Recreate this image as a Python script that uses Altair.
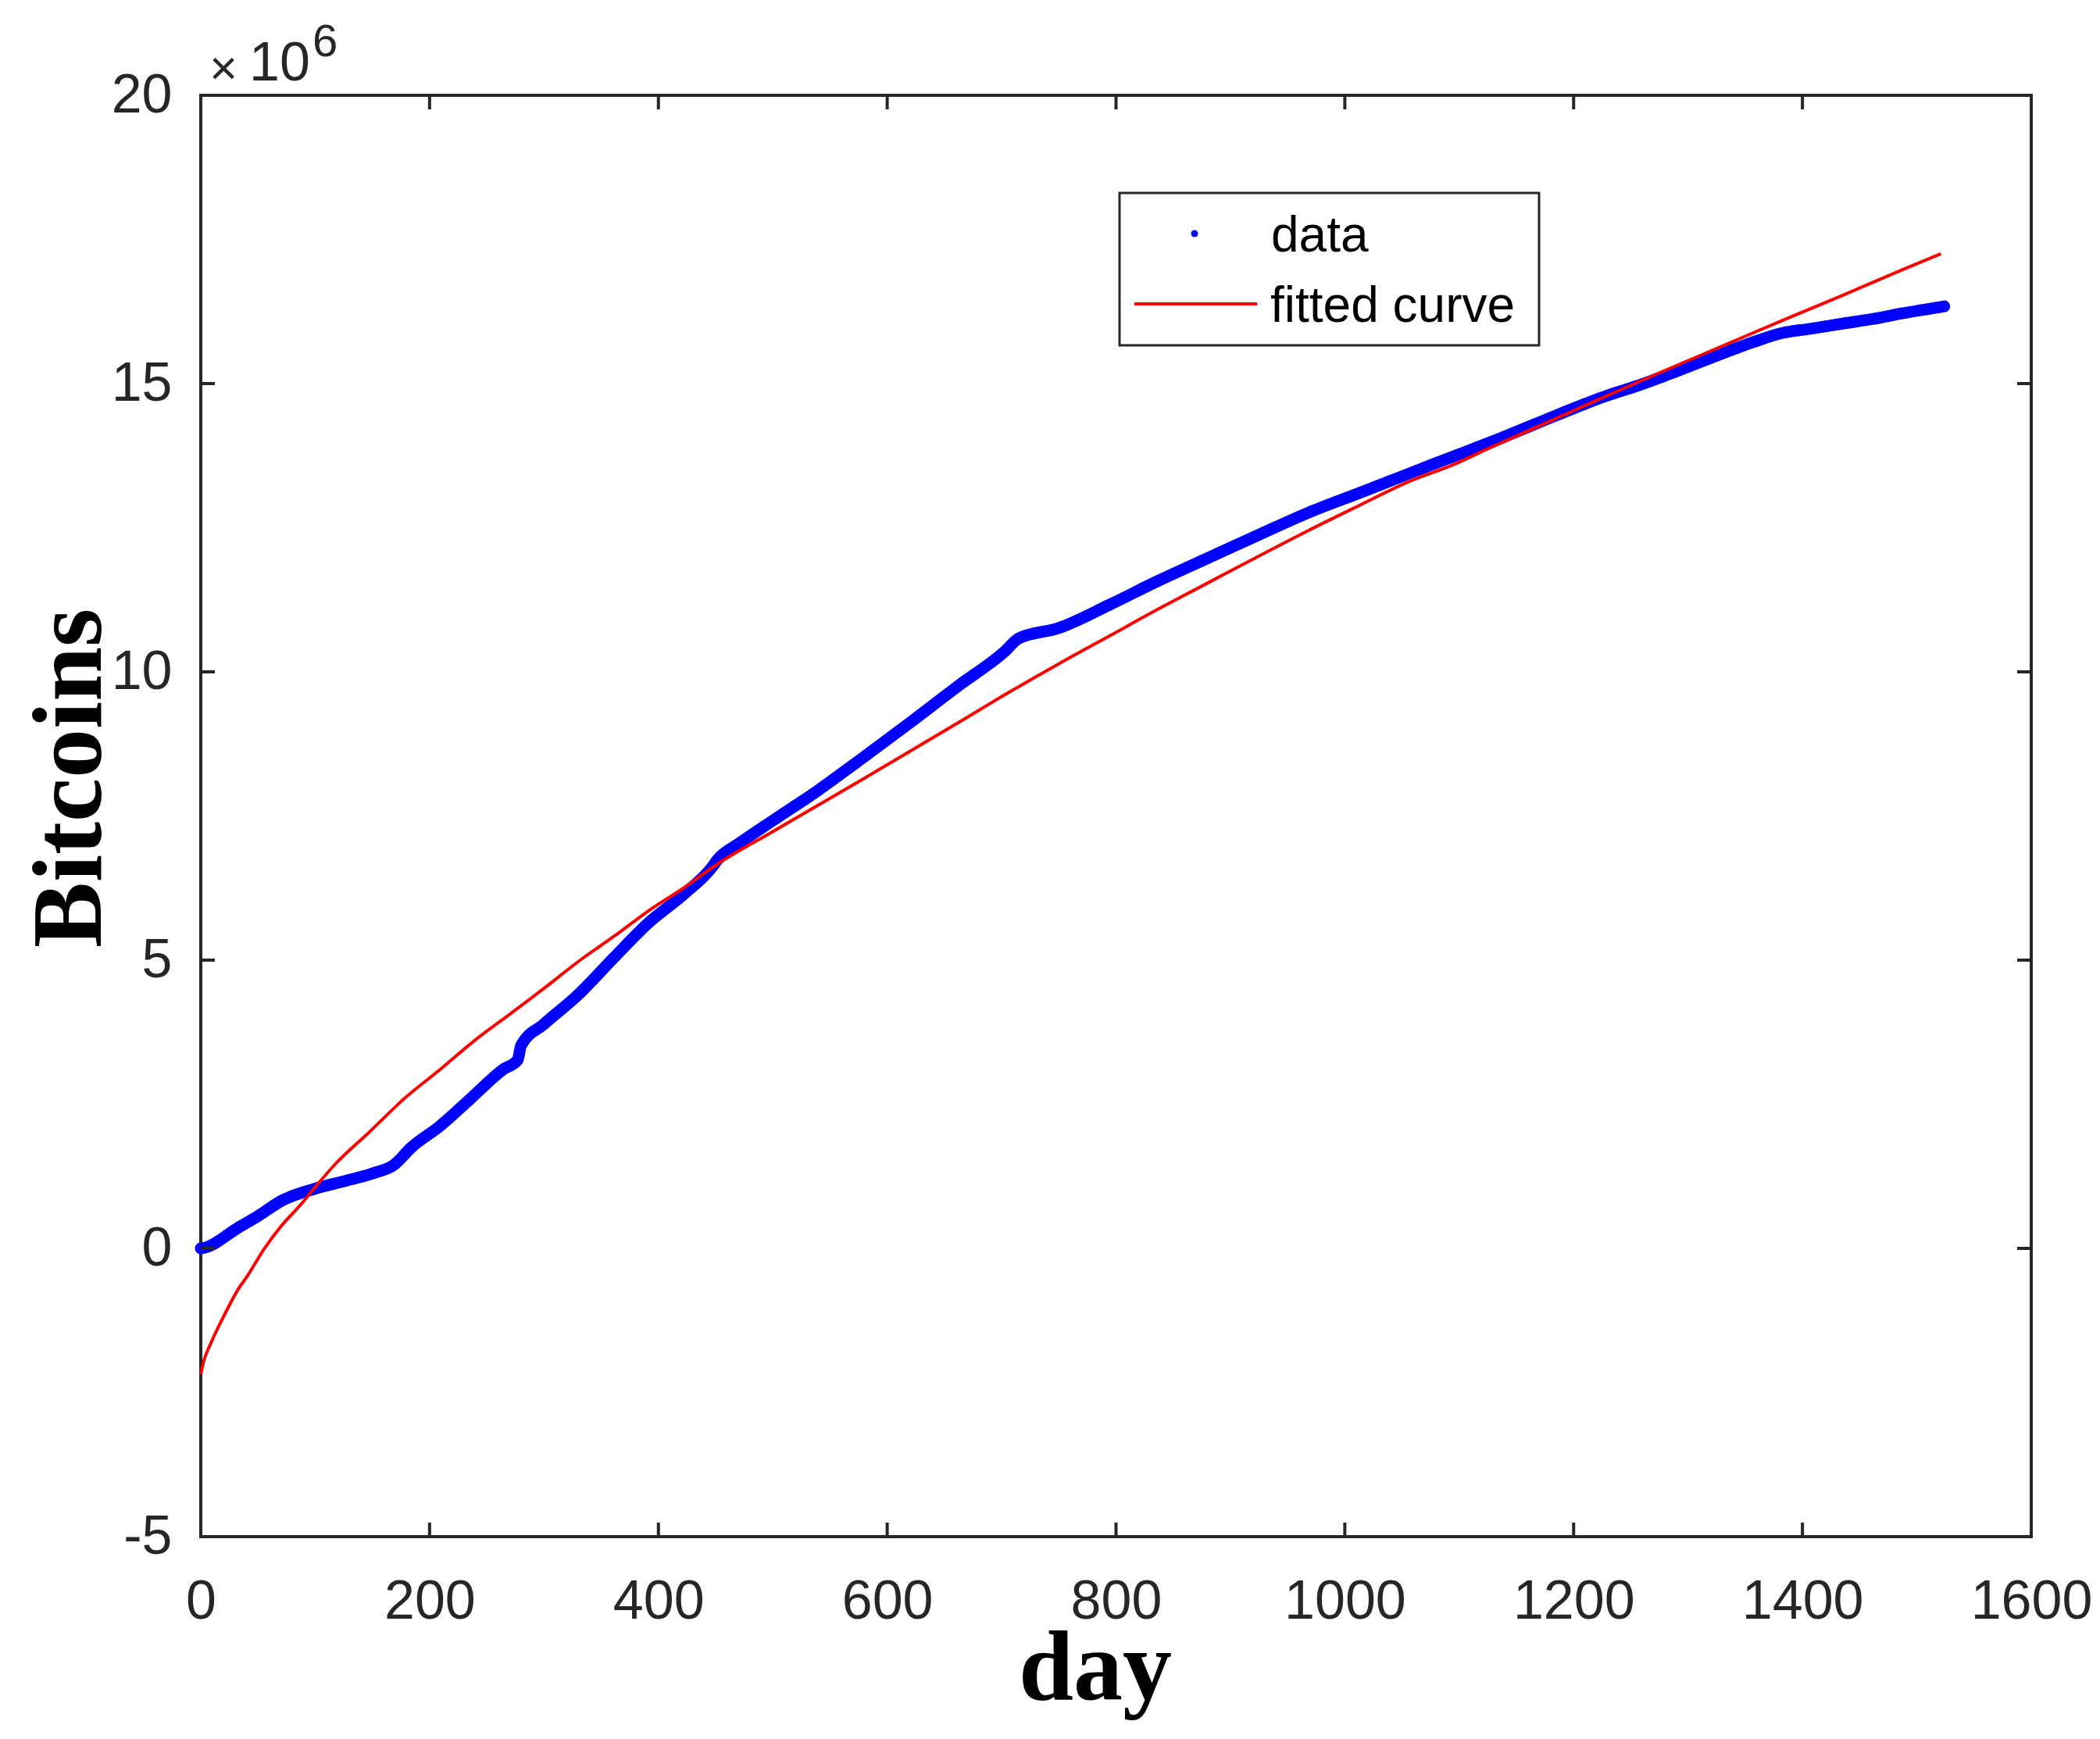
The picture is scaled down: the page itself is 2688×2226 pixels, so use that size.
import altair as alt
import pandas as pd

# ---- data ----
data_days = [0, 3, 32, 50, 71, 99, 126, 150, 169, 184, 209, 236, 264, 277, 280, 300,
             331, 361, 391, 422, 446, 452, 471, 500, 540, 578, 620, 663, 702, 715, 750,
             794, 837, 881, 924, 968, 1011, 1055, 1098, 1142, 1185, 1229, 1254, 1279,
             1331, 1357, 1383, 1407, 1435, 1461, 1488, 1524]
data_bitcoins_m = [0.0, 0.01, 0.35, 0.56, 0.83, 1.03, 1.17, 1.30, 1.45, 1.75, 2.12, 2.60,
                   3.10, 3.27, 3.52, 3.89, 4.42, 5.04, 5.64, 6.14, 6.59, 6.75, 7.03, 7.42,
                   7.95, 8.50, 9.12, 9.77, 10.34, 10.58, 10.76, 11.16, 11.58, 11.98, 12.37,
                   12.76, 13.09, 13.43, 13.76, 14.10, 14.45, 14.79, 14.95, 15.13, 15.53,
                   15.72, 15.88, 15.95, 16.04, 16.12, 16.22, 16.34]

fit_days = [0, 3, 8, 20, 33, 40, 56, 70, 87, 102, 117, 148, 178, 209, 239, 270, 300, 331,
            361, 391, 422, 452, 500, 578, 663, 706, 750, 794, 837, 881, 924, 968, 1011,
            1055, 1098, 1124, 1142, 1174, 1227, 1279, 1331, 1383, 1435, 1488, 1521]
fit_bitcoins_m = [-2.18, -1.93, -1.68, -1.18, -0.70, -0.50, 0.01, 0.38, 0.75, 1.11, 1.45,
                  2.03, 2.60, 3.10, 3.60, 4.06, 4.51, 4.99, 5.41, 5.85, 6.25, 6.67, 7.23,
                  8.13, 9.13, 9.64, 10.14, 10.62, 11.09, 11.55, 12.00, 12.45, 12.87, 13.29,
                  13.62, 13.86, 14.02, 14.30, 14.77, 15.22, 15.66, 16.10, 16.53, 16.98, 17.25]

x_ticks = [0, 200, 400, 600, 800, 1000, 1200, 1400, 1600]
y_ticks = [-5, 0, 5, 10, 15, 20]

legend_labels = ["data", "fitted curve"]
x_title = "day"
y_title = "Bitcoins"

# ---- layout ----
W, H = 2343, 1845
TICK = 18
AX = "#262626"
SANS = "Liberation Sans"
SERIF = "Liberation Serif"

df_data = pd.DataFrame({"day": data_days, "bitcoins": data_bitcoins_m})
df_fit = pd.DataFrame({"day": fit_days, "bitcoins": fit_bitcoins_m})
df_xt = pd.DataFrame({"day": x_ticks})
df_yt = pd.DataFrame({"bitcoins": y_ticks})
one = pd.DataFrame({"a": [0]})

xscale = alt.Scale(domain=[0, 1600], nice=False, zero=False)
yscale = alt.Scale(domain=[-5, 20], nice=False, zero=False)

xaxis = alt.Axis(values=x_ticks, format="d", title=None, grid=False, domain=False,
                 ticks=False, tickSize=0, labelFont=SANS, labelFontSize=70,
                 labelColor=AX, labelPadding=49, labelFlush=False, labelOverlap=False)
yaxis = alt.Axis(values=y_ticks, title=None, grid=False, domain=False,
                 ticks=False, tickSize=0, labelFont=SANS, labelFontSize=70,
                 labelColor=AX, labelPadding=37, labelOverlap=False,
                 labelExpr="datum.value < 0 ? '-' + format(-datum.value, 'd') : format(datum.value, 'd')")

X = lambda: alt.X("day:Q", scale=xscale, axis=xaxis)
Y = lambda: alt.Y("bitcoins:Q", scale=yscale, axis=yaxis)

blue = alt.Chart(df_data).mark_line(
    color="#0000ff", strokeWidth=15, strokeCap="round", strokeJoin="round",
    interpolate="monotone"
).encode(x=X(), y=Y())

red = alt.Chart(df_fit).mark_line(
    color="#ff0000", strokeWidth=4, interpolate="monotone"
).encode(x=X(), y=Y())

# inward ticks on all four sides
tick_style = dict(color=AX, strokeWidth=4)
xt_bottom = alt.Chart(df_xt).mark_rule(**tick_style).encode(
    x=X(), y=alt.value(H), y2=alt.value(H - TICK))
xt_top = alt.Chart(df_xt).mark_rule(**tick_style).encode(
    x=X(), y=alt.value(0), y2=alt.value(TICK))
yt_left = alt.Chart(df_yt).mark_rule(**tick_style).encode(
    y=Y(), x=alt.value(0), x2=alt.value(TICK))
yt_right = alt.Chart(df_yt).mark_rule(**tick_style).encode(
    y=Y(), x=alt.value(W), x2=alt.value(W - TICK))

# legend
leg_box = alt.Chart(one).mark_rect(fill="white", stroke=AX, strokeWidth=3).encode(
    x=alt.value(1176), x2=alt.value(1713), y=alt.value(125), y2=alt.value(320))
leg_dot = alt.Chart(one).mark_point(filled=True, color="#0000ff", size=80, opacity=1).encode(
    x=alt.value(1272), y=alt.value(177))
leg_line = alt.Chart(one).mark_rule(color="#ff0000", strokeWidth=4).encode(
    x=alt.value(1195), x2=alt.value(1352), y=alt.value(267))
leg_t1 = alt.Chart(one).mark_text(font=SANS, fontSize=64, align="left",
                                  baseline="alphabetic", color="black").encode(
    x=alt.value(1370), y=alt.value(200), text=alt.value(legend_labels[0]))
leg_t2 = alt.Chart(one).mark_text(font=SANS, fontSize=64, align="left",
                                  baseline="alphabetic", color="black").encode(
    x=alt.value(1369), y=alt.value(290), text=alt.value(legend_labels[1]))

# axis titles
t_x = alt.Chart(one).mark_text(font=SERIF, fontSize=126, fontWeight="bold", align="center",
                               baseline="alphabetic", color="black").encode(
    x=alt.value(1145), y=alt.value(2053), text=alt.value(x_title))
t_y = alt.Chart(one).mark_text(font=SERIF, fontSize=126, fontWeight="bold", align="center",
                               baseline="alphabetic", angle=270, color="black").encode(
    x=alt.value(-128), y=alt.value(874), text=alt.value(y_title))

# exponent annotation  x10^6
ex_times = alt.Chart(one).mark_text(font=SANS, fontSize=62, align="center",
                                    baseline="alphabetic", color=AX).encode(
    x=alt.value(29), y=alt.value(-14), text=alt.value("\u00d7"))
ex_ten = alt.Chart(one).mark_text(font=SANS, fontSize=70, align="left",
                                  baseline="alphabetic", color=AX).encode(
    x=alt.value(62), y=alt.value(-19), text=alt.value("10"))
ex_six = alt.Chart(one).mark_text(font=SANS, fontSize=58, align="left",
                                  baseline="alphabetic", color=AX).encode(
    x=alt.value(143), y=alt.value(-50), text=alt.value("6"))

chart = alt.layer(
    blue, red, xt_bottom, xt_top, yt_left, yt_right,
    leg_box, leg_dot, leg_line, leg_t1, leg_t2,
    t_x, t_y, ex_times, ex_ten, ex_six,
).properties(
    width=W, height=H,
    autosize=alt.AutoSizeParams(type="none"),
    padding={"left": 249, "top": 114, "right": 80, "bottom": 250},
    background="white",
).configure_view(
    stroke=AX, strokeWidth=4
)

chart.save("out.html", embed_options={"renderer": "svg", "actions": False})
